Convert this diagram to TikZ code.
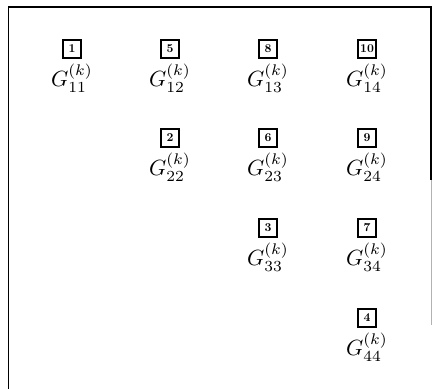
\documentclass[tikz,border=0pt]{standalone}
\usepackage{graphicx}
\usepackage{amsmath}
\newcommand{\gbig}[1]{\scalebox{2.2}{$#1$}}
\newcommand{\nsmall}[1]{\scalebox{1.2}{\bfseries #1}}
\begin{document}
\begin{tikzpicture}[x=1pt,y=-1pt,
  numbox/.style={draw,line width=1.3pt,minimum width=18pt,minimum height=18pt,inner sep=2pt},
  glabel/.style={inner sep=0pt}]
\useasboundingbox (0,0) rectangle (432,389);
\draw[line width=1.4pt] (8.5,389) -- (8.5,7) -- (431,7) -- (431,180);
\draw[line width=0.6pt,gray!60] (431,180) -- (431,325);
% row 1
\node[numbox] (b1) at (72,49) {\nsmall{1}};
\node[glabel] (g11) at (72,78) {\gbig{G_{11}^{(k)}}};
\node[numbox] (b5) at (170,49) {\nsmall{5}};
\node[glabel] (g12) at (170,78) {\gbig{G_{12}^{(k)}}};
\node[numbox] (b8) at (268,49) {\nsmall{8}};
\node[glabel] (g13) at (268,78) {\gbig{G_{13}^{(k)}}};
\node[numbox] (b10) at (367,49) {\nsmall{10}};
\node[glabel] (g14) at (367,78) {\gbig{G_{14}^{(k)}}};
% row 2
\node[numbox] (b2) at (170,138) {\nsmall{2}};
\node[glabel] (g22) at (170,167) {\gbig{G_{22}^{(k)}}};
\node[numbox] (b6) at (268,138) {\nsmall{6}};
\node[glabel] (g23) at (268,167) {\gbig{G_{23}^{(k)}}};
\node[numbox] (b9) at (367,138) {\nsmall{9}};
\node[glabel] (g24) at (367,167) {\gbig{G_{24}^{(k)}}};
% row 3
\node[numbox] (b3) at (268,228) {\nsmall{3}};
\node[glabel] (g33) at (268,257) {\gbig{G_{33}^{(k)}}};
\node[numbox] (b7) at (367,228) {\nsmall{7}};
\node[glabel] (g34) at (367,257) {\gbig{G_{34}^{(k)}}};
% row 4
\node[numbox] (b4) at (367,318) {\nsmall{4}};
\node[glabel] (g44) at (367,347) {\gbig{G_{44}^{(k)}}};
\end{tikzpicture}
\end{document}
